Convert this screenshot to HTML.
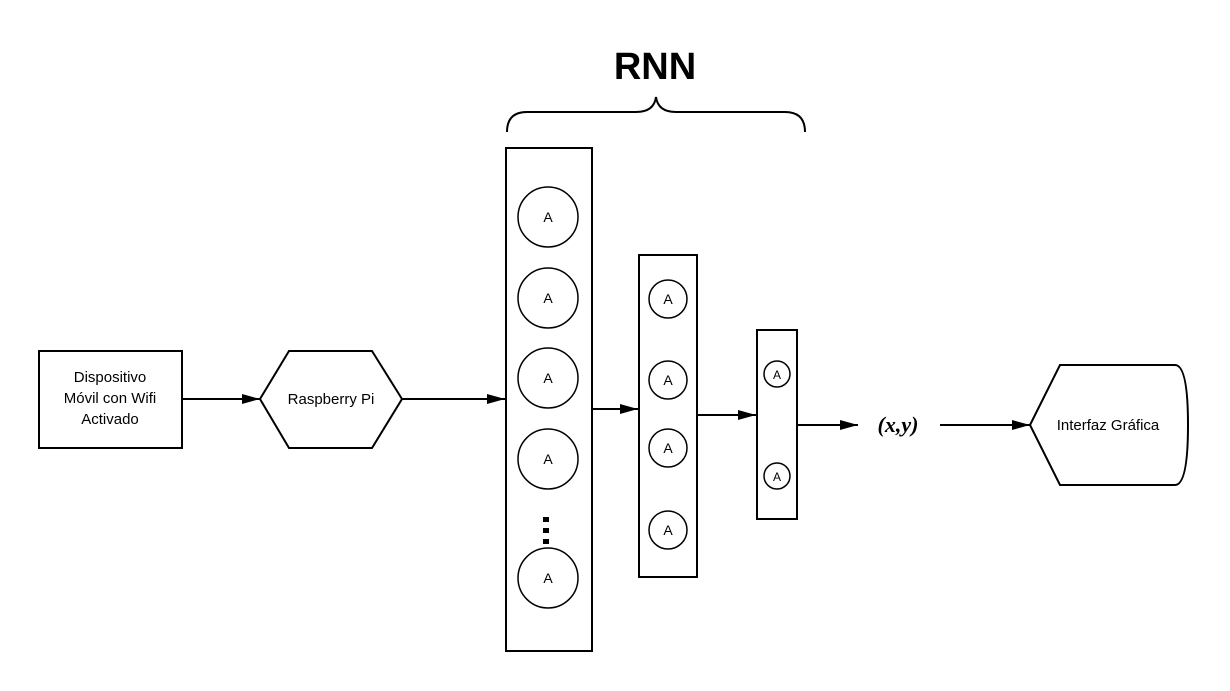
<!DOCTYPE html>
<html><head><meta charset="utf-8"><style>body{margin:0;background:#fff}svg{display:block}</style></head><body>
<svg width="1230" height="691" viewBox="0 0 1230 691" xmlns="http://www.w3.org/2000/svg">
<defs><marker id="ah" markerWidth="10" markerHeight="8" refX="10" refY="4" orient="auto" markerUnits="userSpaceOnUse"><path d="M0,0 L10,4 L0,8 z" fill="#000"/></marker>
<marker id="ah2" markerWidth="18" markerHeight="10" refX="18" refY="5" orient="auto" markerUnits="userSpaceOnUse"><path d="M0,0 L18,5 L0,10 z" fill="#000"/></marker></defs>
<g fill="none" stroke="#000" stroke-width="2">
<rect x="39" y="351" width="143" height="97"/>
<path d="M260,399 L289,351 L372,351 L402,399 L372,448 L289,448 Z"/>
<rect x="506" y="148" width="86" height="503"/>
<rect x="639" y="255" width="58" height="322"/>
<rect x="757" y="330" width="40" height="189"/>
<path d="M1030,425 L1060,365 L1175,365 Q1188,365 1188,425 Q1188,485 1175,485 L1060,485 Z"/>
<path d="M507,132 Q507,112 527,112 L636,112 Q654,112 656,97 Q658,112 676,112 L785,112 Q805,112 805,132"/>
<g stroke-width="1.5">
<circle cx="548" cy="217" r="30"/><circle cx="548" cy="298" r="30"/><circle cx="548" cy="378" r="30"/><circle cx="548" cy="459" r="30"/><circle cx="548" cy="578" r="30"/>
<circle cx="668" cy="299" r="19"/><circle cx="668" cy="380" r="19"/><circle cx="668" cy="448" r="19"/><circle cx="668" cy="530" r="19"/>
<circle cx="777" cy="374" r="13"/><circle cx="777" cy="476" r="13"/>
</g>
<line x1="182" y1="399" x2="260" y2="399" marker-end="url(#ah2)"/>
<line x1="402" y1="399" x2="505" y2="399" marker-end="url(#ah2)"/>
<line x1="592" y1="409" x2="638" y2="409" marker-end="url(#ah2)"/>
<line x1="697" y1="415" x2="756" y2="415" marker-end="url(#ah2)"/>
<line x1="797" y1="425" x2="858" y2="425" marker-end="url(#ah2)"/>
<line x1="940" y1="425" x2="1030" y2="425" marker-end="url(#ah2)"/>
</g>
<g fill="#000"><rect x="543" y="517" width="6" height="5"/><rect x="543" y="528" width="6" height="5"/><rect x="543" y="539" width="6" height="5"/></g>
<g font-family="Liberation Sans, sans-serif" font-size="15" text-anchor="middle" fill="#000">
<text x="110" y="382">Dispositivo</text><text x="110" y="403">Móvil con Wifi</text><text x="110" y="424">Activado</text>
<text x="331" y="404">Raspberry Pi</text>
<text x="1108" y="430">Interfaz Gráfica</text>
<g font-size="14"><text x="548" y="222">A</text><text x="548" y="303">A</text><text x="548" y="383">A</text><text x="548" y="464">A</text><text x="548" y="583">A</text>
<text x="668" y="304">A</text><text x="668" y="385">A</text><text x="668" y="453">A</text><text x="668" y="535">A</text></g>
<g font-size="12"><text x="777" y="379">A</text><text x="777" y="481">A</text></g>
<text x="655" y="79" font-size="38" font-weight="bold">RNN</text>
<text x="898" y="432" font-family="Liberation Serif, serif" font-size="22" font-style="italic" font-weight="bold">(x,y)</text>
</g>
</svg>
</body></html>
